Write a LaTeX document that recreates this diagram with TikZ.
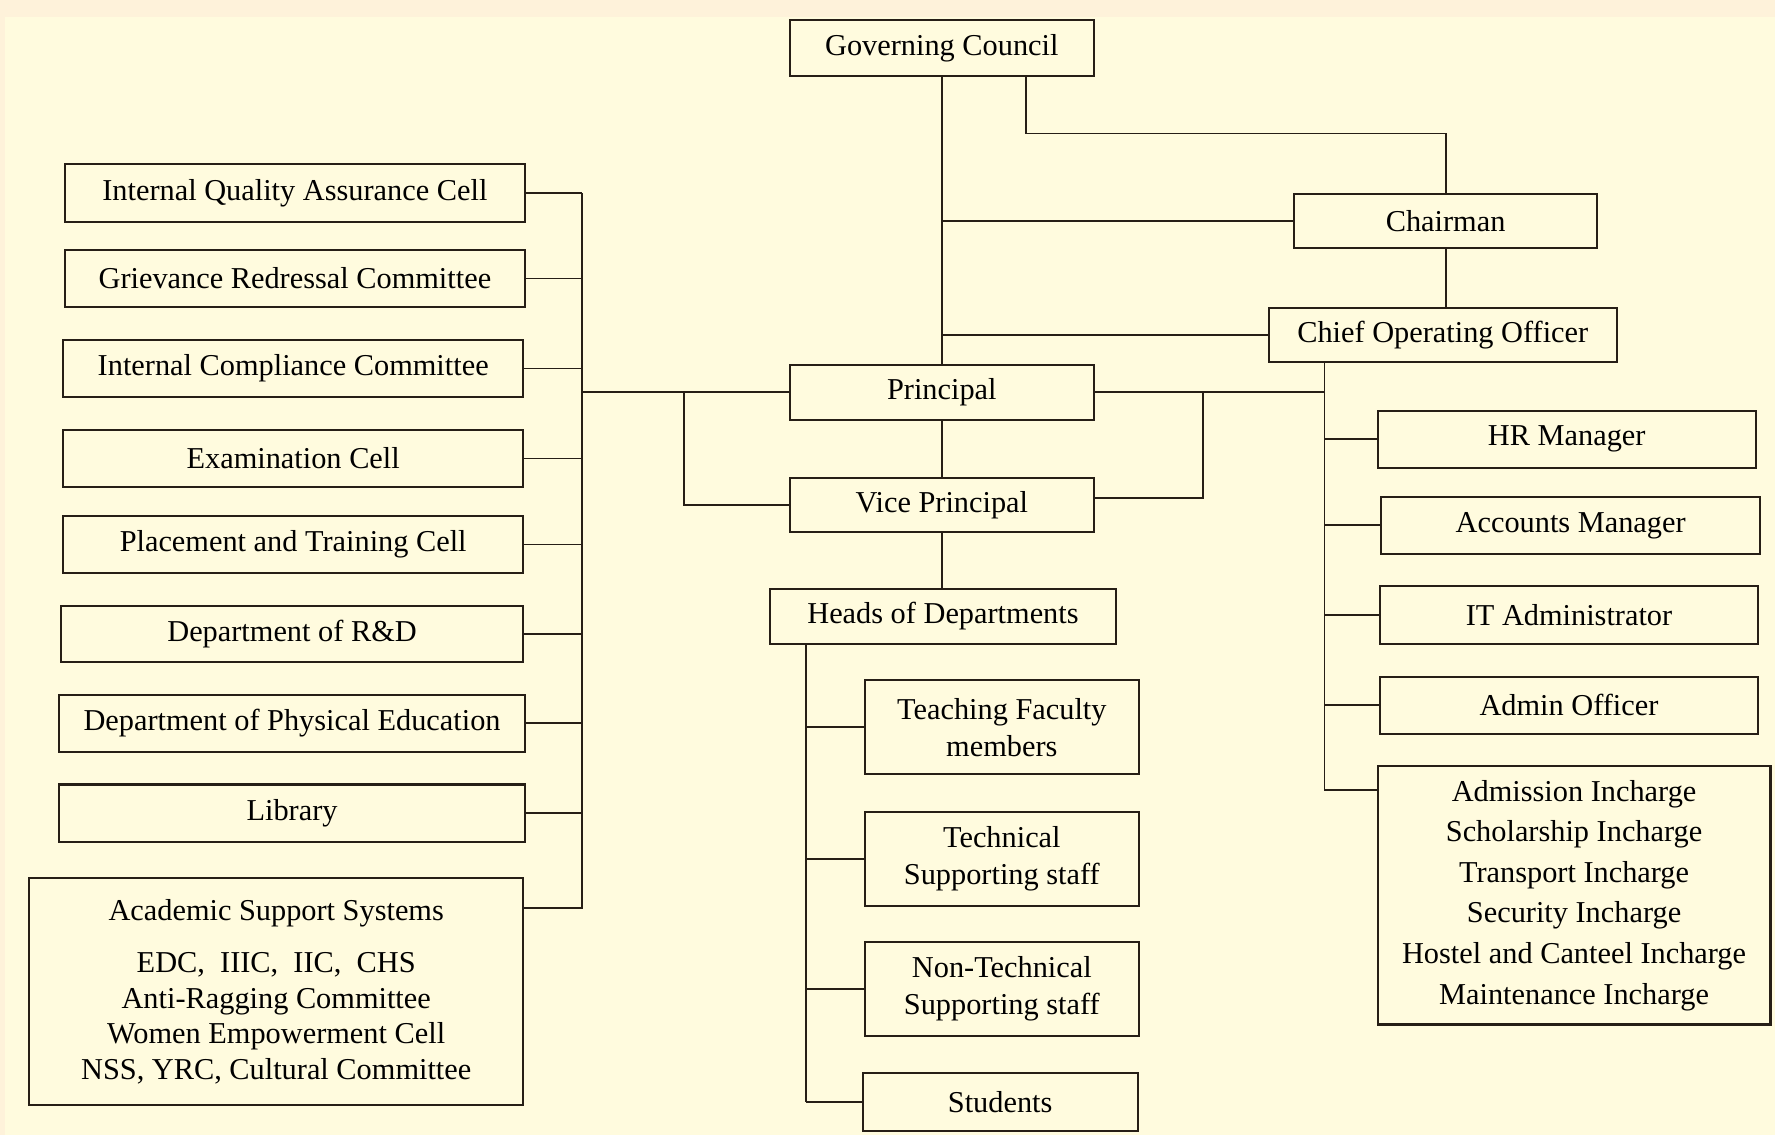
\documentclass[tikz,border=0pt]{standalone}
\usepackage{fontspec}
\setmainfont{Liberation Serif}
\usetikzlibrary{positioning}
\definecolor{mycream}{RGB}{255,251,222}
\definecolor{mypeach}{RGB}{254,242,218}
\definecolor{myline}{RGB}{38,30,22}
\begin{document}
\begin{tikzpicture}[x=0.5pt,y=-0.5pt,
  obox/.style={draw=myline,line width=0.9pt,inner sep=0pt,align=center,
    font=\fontsize{13.4pt}{16.5pt}\selectfont},
  lnk/.style={draw=myline,line width=0.8pt}]

  \fill[mypeach] (0,0) rectangle (1568,1003);
  \fill[mycream] (4,15) rectangle (1568,1003);
  \useasboundingbox (0,0) rectangle (1568,1003);

  % middle column
  \node[obox,minimum width=134pt,minimum height=24.5pt] (gc) at (832,42.5) {Governing Council};
  \node[obox,minimum width=134pt,minimum height=24pt] (chair) at (1277,195) {Chairman};
  \node[obox,minimum width=153.5pt,minimum height=24pt] (coo) at (1274.5,296) {Chief Operating Officer};
  \node[obox,minimum width=134pt,minimum height=24.5pt] (prin) at (832,346.5) {Principal};
  \node[obox,minimum width=134pt,minimum height=24pt] (vp) at (832,446) {Vice Principal};
  \node[obox,minimum width=153pt,minimum height=24.5pt] (hod) at (833,544.5) {Heads of Departments};
  \node[obox,minimum width=121pt,minimum height=41.5pt] (teach) at (885,642.5) {Teaching Faculty\\members};
  \node[obox,minimum width=121pt,minimum height=41.5pt] (tech) at (885,758.5) {Technical\\Supporting staff};
  \node[obox,minimum width=121pt,minimum height=41.5pt] (ntech) at (885,873.5) {Non-Technical\\Supporting staff};
  \node[obox,minimum width=121.5pt,minimum height=25.5pt] (stud) at (883.5,973.5) {Students};

  % right column
  \node[obox,minimum width=167pt,minimum height=25pt] (hr) at (1384,388) {HR Manager};
  \node[obox,minimum width=167.5pt,minimum height=25pt] (acc) at (1387.5,464) {Accounts Manager};
  \node[obox,minimum width=167pt,minimum height=25.5pt] (itad) at (1386,543.5) {IT Administrator};
  \node[obox,minimum width=167pt,minimum height=25pt] (adm) at (1386,623) {Admin Officer};
  \node[obox,minimum width=173.5pt,minimum height=114pt,
    font=\fontsize{13.4pt}{17.9pt}\selectfont] (inch) at (1390.5,791)
    {Admission Incharge\\Scholarship Incharge\\Transport Incharge\\Security Incharge\\
     Hostel and Canteel Incharge\\Maintenance Incharge};

  % left column
  \node[obox,minimum width=203.5pt,minimum height=25.5pt] (iqac) at (260.5,170.5) {Internal Quality Assurance Cell};
  \node[obox,minimum width=203.5pt,minimum height=25pt] (grc) at (260.5,246) {Grievance Redressal Committee};
  \node[obox,minimum width=203pt,minimum height=25.5pt] (icc) at (259,325.5) {Internal Compliance Committee};
  \node[obox,minimum width=203pt,minimum height=25pt] (exam) at (259,405) {Examination Cell};
  \node[obox,minimum width=203pt,minimum height=25pt] (ptc) at (259,481) {Placement and Training Cell};
  \node[obox,minimum width=204pt,minimum height=25pt] (rnd) at (258,560) {Department of R\&D};
  \node[obox,minimum width=206pt,minimum height=25pt] (phy) at (258,639) {Department of Physical Education};
  \node[obox,minimum width=206pt,minimum height=25.5pt] (lib) at (258,718.5) {Library};
  \node[obox,minimum width=218pt,minimum height=100pt,
    font=\fontsize{13.4pt}{15.7pt}\selectfont] (acad) at (244,876)
    {Academic Support Systems\\[7.3pt]
     EDC,\ \ IIIC,\ \ IIC,\ \ CHS\\Anti-Ragging Committee\\
     Women Empowerment Cell\\NSS, YRC, Cultural Committee};

  \coordinate (lbus) at (514,170.5);
  \coordinate (acadjoin) at (514,802);
  \coordinate (vpjoin) at (604,346.5);
  \coordinate (gcturn) at (906,118);
  \coordinate (rbus) at (1170,320);
  \coordinate (inchjoin) at (1170,698);
  \coordinate (pvjoin) at (1063,346.5);
  \coordinate (hbus) at (712,569);

  % draw legs for left side
  \foreach \n in {iqac,grc,icc,exam,ptc,rnd,phy,lib}
    \draw[lnk] (\n.east) -- (\n.east -| lbus);
  \draw[lnk] (lbus) -- (acadjoin) -- (acadjoin -| acad.east);
  \draw[lnk] (lbus |- prin.west) -- (prin.west);
  \draw[lnk] (vpjoin) |- (vp.west);

  % governing council and top
  \draw[lnk] (gc.south) -- (prin.north);
  \draw[lnk] (gc.south |- chair.west) -- (chair.west);
  \draw[lnk] (gc.south |- coo.west) -- (coo.west);
  \draw[lnk] (gc.south -| gcturn) -- (gcturn) -| (chair.north);
  \draw[lnk] (chair.south) -- (chair.south |- coo.north);
  \draw[lnk] (prin.south) -- (vp.north);
  \draw[lnk] (vp.south) -- (vp.south |- hod.north);

  % draw legs for right side
  \draw[lnk] (rbus) -- (inchjoin) -- (inchjoin -| inch.west);
  \foreach \n in {hr,acc,itad,adm}
    \draw[lnk] (\n.west -| rbus) -- (\n.west);
  \draw[lnk] (prin.east) -- (prin.east -| rbus);
  \draw[lnk] (pvjoin) |- ([yshift=3pt]vp.east);

  % heads of departments
  \draw[lnk] (hbus) -- (hbus |- stud.west);
  \foreach \n in {teach,tech,ntech,stud}
    \draw[lnk] (\n.west -| hbus) -- (\n.west);

\end{tikzpicture}
\end{document}
